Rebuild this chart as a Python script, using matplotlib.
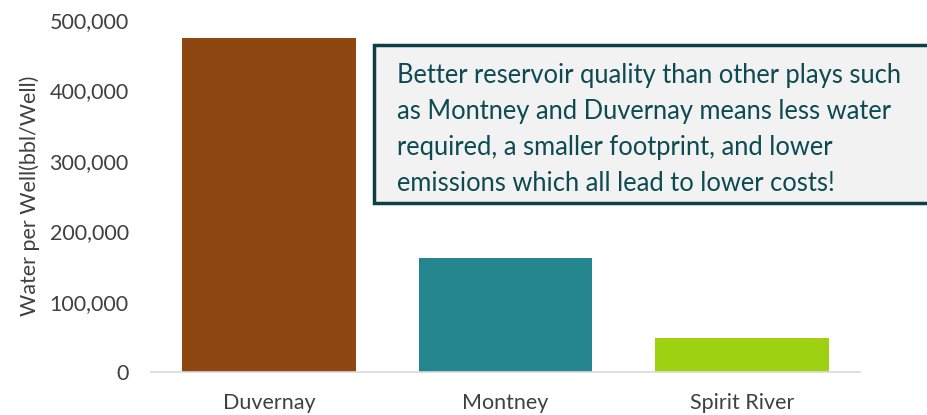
import matplotlib
matplotlib.use("Agg")
import matplotlib.pyplot as plt
from matplotlib.patches import Rectangle
from matplotlib.ticker import FuncFormatter

categories = ["Duvernay", "Montney", "Spirit River"]
values = [474000, 162000, 48000]
colors = ["#8f4712", "#26868f", "#9dd111"]
yticks = [0, 100000, 200000, 300000, 400000, 500000]
note = ("Better reservoir quality than other plays such\n"
        "as Montney and Duvernay means less water\n"
        "required, a smaller footprint, and lower\n"
        "emissions which all lead to lower costs!")

plt.rcParams['font.family'] = ['Lato', 'DejaVu Sans']

fig = plt.figure(figsize=(9.27, 4.15), dpi=100)
ax = fig.add_axes([151/927, 1 - 372/415, 709/927, 352/415])
x = range(len(categories))
ax.bar(x, values, width=0.736, color=colors, zorder=2)
ax.set_xlim(-0.5, 2.5)
ax.set_ylim(0, 500000)
ax.set_yticks(yticks)
ax.yaxis.set_major_formatter(FuncFormatter(lambda v, p: f"{int(v):,}"))
ax.set_xticks(list(x))
ax.set_xticklabels(categories, fontsize=15.5)
for s in ["top", "right", "left"]:
    ax.spines[s].set_visible(False)
ax.spines["bottom"].set_color("#d9d9d9")
ax.spines["bottom"].set_linewidth(1.2)
ax.tick_params(axis="both", length=0, labelcolor="#404040")
ax.tick_params(axis="y", pad=16, labelsize=15.5)
ax.tick_params(axis="x", pad=15)
ax.set_ylabel("Water per Well(bbl/Well)", fontsize=15.5, color="#404040", labelpad=7)

box = Rectangle((374/927, 1 - 203/415), 570/927, 158/415, transform=fig.transFigure,
                facecolor="#f2f2f2", edgecolor="#0e3f46", linewidth=2.5, zorder=5,
                clip_on=False)
fig.patches.append(box)
fig.text(397/927, 1 - 129.5/415, note, transform=fig.transFigure, ha="left", va="center",
         fontsize=18.4, color="#0d4a52", linespacing=1.55, zorder=6)

fig.savefig("out.png", dpi=100)
